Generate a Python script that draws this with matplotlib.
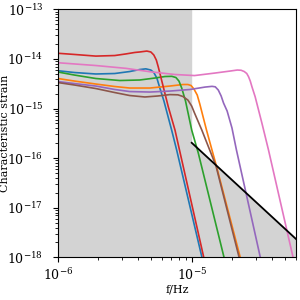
import numpy as np
import matplotlib
matplotlib.use("Agg")
import matplotlib.pyplot as plt

plt.rcParams['font.family'] = ['DejaVu Serif']
plt.rcParams['mathtext.fontset'] = 'stix'

# curves: frequency (Hz) and characteristic strain
blue_f = [1e-6, 1.33e-6, 1.92e-6, 2.66e-6, 3.44e-6, 4.09e-6, 4.54e-6, 4.95e-6, 5.21e-6, 5.49e-6,
          5.78e-6, 6.20e-6, 7.08e-6, 7.72e-6, 1.19e-5, 1.20e-5]
blue_h = [5.78e-15, 5.32e-15, 4.97e-15, 5.08e-15, 5.57e-15, 6.11e-15, 6.31e-15, 5.97e-15, 5.32e-15, 4.12e-15,
          2.59e-15, 1.42e-15, 3.69e-16, 1.46e-16, 1.03e-18, 9.0e-19]

orange_f = [1e-6, 1.33e-6, 1.92e-6, 2.66e-6, 3.44e-6, 4.87e-6, 6.87e-6, 8.60e-6, 9.37e-6, 9.89e-6,
            1.04e-5, 1.10e-5, 1.15e-5, 1.29e-5, 1.53e-5, 2.30e-5, 2.34e-5]
orange_h = [4.03e-15, 3.58e-15, 3.12e-15, 2.78e-15, 2.59e-15, 2.59e-15, 2.84e-15, 3.05e-15, 3.05e-15, 2.91e-15,
            2.47e-15, 1.87e-15, 1.23e-15, 3.69e-16, 6.93e-17, 1.03e-18, 8.4e-19]

green_f = [1e-6, 1.33e-6, 1.92e-6, 2.90e-6, 4.09e-6, 5.31e-6, 6.31e-6, 7.11e-6, 7.62e-6, 8.03e-6,
           8.42e-6, 8.99e-6, 1.0e-5, 1.12e-5, 1.74e-5, 1.78e-5]
green_h = [5.45e-15, 4.73e-15, 4.03e-15, 3.67e-15, 3.76e-15, 4.12e-15, 4.42e-15, 4.46e-15, 4.22e-15, 3.58e-15,
           2.59e-15, 1.42e-15, 3.69e-16, 1.27e-16, 1.03e-18, 8.4e-19]

red_f = [1e-6, 1.33e-6, 1.92e-6, 2.66e-6, 3.22e-6, 3.76e-6, 4.09e-6, 4.62e-6, 4.95e-6, 5.21e-6,
         5.44e-6, 5.62e-6, 6.13e-6, 6.68e-6, 7.50e-6, 1.22e-5, 1.24e-5]
red_h = [1.30e-14, 1.23e-14, 1.14e-14, 1.17e-14, 1.26e-14, 1.35e-14, 1.38e-14, 1.44e-14, 1.38e-14, 1.20e-14,
         9.50e-15, 6.97e-15, 2.75e-15, 1.09e-15, 3.69e-16, 1.11e-18, 9.0e-19]

purple_f = [1e-6, 1.33e-6, 1.92e-6, 2.66e-6, 3.44e-6, 4.87e-6, 6.87e-6, 9.71e-6, 1.26e-5, 1.42e-5,
            1.50e-5, 1.58e-5, 1.66e-5, 1.73e-5, 1.84e-5, 2.00e-5, 2.16e-5, 3.25e-5, 3.31e-5]
purple_h = [3.50e-15, 3.19e-15, 2.84e-15, 2.42e-15, 2.20e-15, 2.15e-15, 2.25e-15, 2.42e-15, 2.71e-15, 2.80e-15,
            2.74e-15, 2.36e-15, 1.79e-15, 1.29e-15, 8.91e-16, 4.05e-16, 1.46e-16, 1.03e-18, 8.4e-19]

brown_f = [1e-6, 1.33e-6, 1.92e-6, 2.66e-6, 3.44e-6, 4.47e-6, 5.58e-6, 6.87e-6, 7.89e-6, 8.60e-6,
           9.37e-6, 1.00e-5, 1.05e-5, 1.19e-5, 1.52e-5, 2.26e-5, 2.30e-5]
brown_h = [3.34e-15, 2.98e-15, 2.53e-15, 2.10e-15, 1.83e-15, 1.71e-15, 1.79e-15, 1.91e-15, 1.89e-15, 1.75e-15,
           1.48e-15, 1.12e-15, 8.11e-16, 3.69e-16, 6.93e-17, 1.01e-18, 8.4e-19]

pink_f = [1e-6, 1.92e-6, 3.22e-6, 4.87e-6, 7.50e-6, 1.05e-5, 1.50e-5, 1.94e-5, 2.19e-5, 2.34e-5,
          2.47e-5, 2.58e-5, 2.66e-5, 2.74e-5, 2.82e-5, 2.98e-5, 3.35e-5, 3.75e-5, 5.71e-5, 5.79e-5]
pink_h = [8.38e-15, 7.36e-15, 6.46e-15, 5.52e-15, 4.85e-15, 4.62e-15, 5.20e-15, 5.70e-15, 5.97e-15, 5.91e-15,
          5.57e-15, 5.08e-15, 4.38e-15, 3.58e-15, 2.75e-15, 1.73e-15, 5.04e-16, 1.46e-16, 1.03e-18, 8.4e-19]

# sensitivity limit line
limit_f = [1e-5, 6.03e-5]
limit_h = [2.04e-16, 2.34e-18]

fmin, fmax = 1e-6, 6.03e-5
hmin, hmax = 1e-18, 1e-13

fig = plt.figure(figsize=(3, 3), dpi=100)
ax = fig.add_axes([0.193, 0.142, 0.794, 0.827])

# grey excluded region
ax.fill_between([fmin, limit_f[0], limit_f[0], limit_f[1]],
                [hmax, hmax, limit_h[0], limit_h[1]], hmin,
                color='lightgray', lw=0, zorder=0)

curves = [(blue_f, blue_h, 'C0'), (orange_f, orange_h, 'C1'), (green_f, green_h, 'C2'),
          (red_f, red_h, 'C3'), (purple_f, purple_h, 'C4'), (brown_f, brown_h, 'C5'),
          (pink_f, pink_h, 'C6')]
for f, h, c in curves:
    ax.plot(f, h, color=c, lw=1.2)

ax.plot(limit_f, limit_h, color='black', lw=1.3)

ax.set_xscale('log')
ax.set_yscale('log')
ax.set_xlim(fmin, fmax)
ax.set_ylim(hmin, hmax)
ax.tick_params(labelsize=9)
ax.tick_params(axis='y', pad=7)
ax.set_xlabel('f/Hz', fontsize=8, labelpad=1)
ax.set_ylabel('Characteristic strain', fontsize=8)
ax.yaxis.set_label_coords(-0.2, 0.5)

fig.savefig('out.png', dpi=100)
